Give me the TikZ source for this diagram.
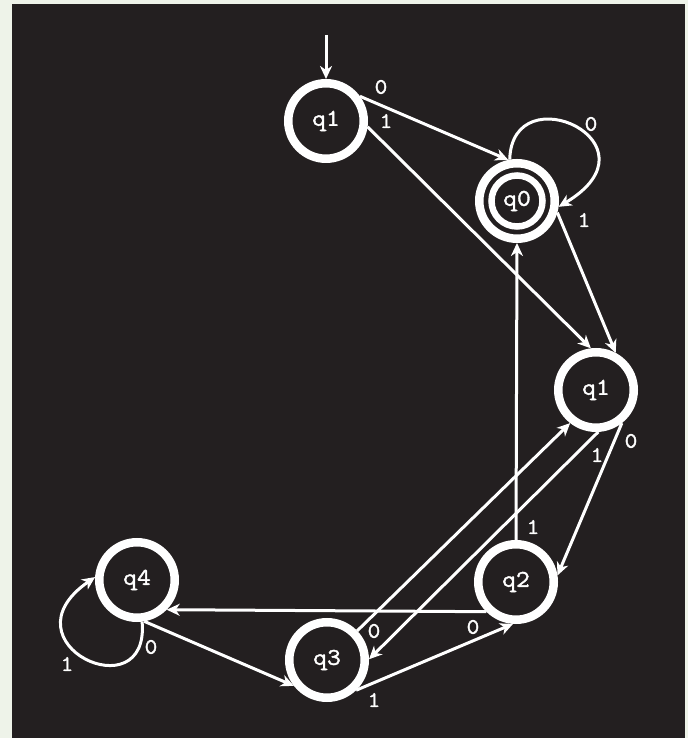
\documentclass[tikz,border=0pt]{standalone}
\usepackage{fontspec}
\newfontfamily\stfont[FakeBold=1.6,FakeStretch=1.12]{Latin Modern Mono}
\usetikzlibrary{arrows.meta}
\definecolor{bgdark}{HTML}{231F20}
\definecolor{bglight}{HTML}{EEF3E9}
\begin{document}
\begin{tikzpicture}[x=1pt,y=1pt,
  state/.style={circle, draw=white, line width=8.5pt, minimum size=75.5pt, inner sep=0pt,
    text=white, font=\stfont\fontsize{24}{24}\selectfont},
  lbl/.style={text=white, inner sep=0pt, font=\stfont\fontsize{22}{22}\selectfont},
  edge/.style={draw=white, line width=3pt, -{Stealth[length=13pt,width=12pt,inset=4pt]}}]
\fill[bglight] (0,0) rectangle (688,738);
\fill[bgdark] (12,0) rectangle (685,734);
\useasboundingbox (0,0) rectangle (688,738);
% states
\node[state] (q1) at (326,617) {q1};
\node[state] (q0) at (517,537) {q0};
\node[state] (q1r) at (596,348) {q1};
\node[state] (q2) at (516,156) {q2};
\node[state] (q3) at (327,78) {q3};
\node[state] (q4) at (137,158) {q4};
\draw[white, line width=6.5pt] (q0.center) circle (25.5pt);
\coordinate (start) at (326,703);
% edges
\draw[edge] (start) -- (q1);
\draw[edge] (q1.36) -- (q0.102);
\draw[edge] (q1.-8) -- (q1r.97);
\draw[edge] (q0.100) .. controls (512,665) and (665,595) .. (q0.-8);
\draw[edge] (q0.-16) -- (q1r.62);
\draw[edge] (q1r.-52) -- (q2.9);
\draw[edge] (q1r.-87) -- (q3.1);
\draw[edge] (q3.44) -- (q1r.-128);
\draw[edge] (q2.90) -- (q0.-90);
\draw[edge] (q2.-135) -- (q4.-45);
\draw[edge] (q3.-46) -- (q2.-94);
\draw[edge] (q4.-80) -- (q3.-142);
\draw[edge] (q4.-83) .. controls (150,25) and (0,95) .. (q4.176);
% labels
\node[lbl] (l1) at (381,651) {0};
\node[lbl] (l2) at (386,617) {1};
\node[lbl] (l3) at (591,614) {0};
\node[lbl] (l4) at (584,518) {1};
\node[lbl] (l5) at (597,283) {1};
\node[lbl] (l6) at (631,297) {0};
\node[lbl] (l7) at (533,211) {1};
\node[lbl] (l8) at (473,111) {0};
\node[lbl] (l9) at (374,107) {0};
\node[lbl] (l10) at (374,38) {1};
\node[lbl] (l11) at (151,91) {0};
\node[lbl] (l12) at (67,74) {1};
\end{tikzpicture}
\end{document}
